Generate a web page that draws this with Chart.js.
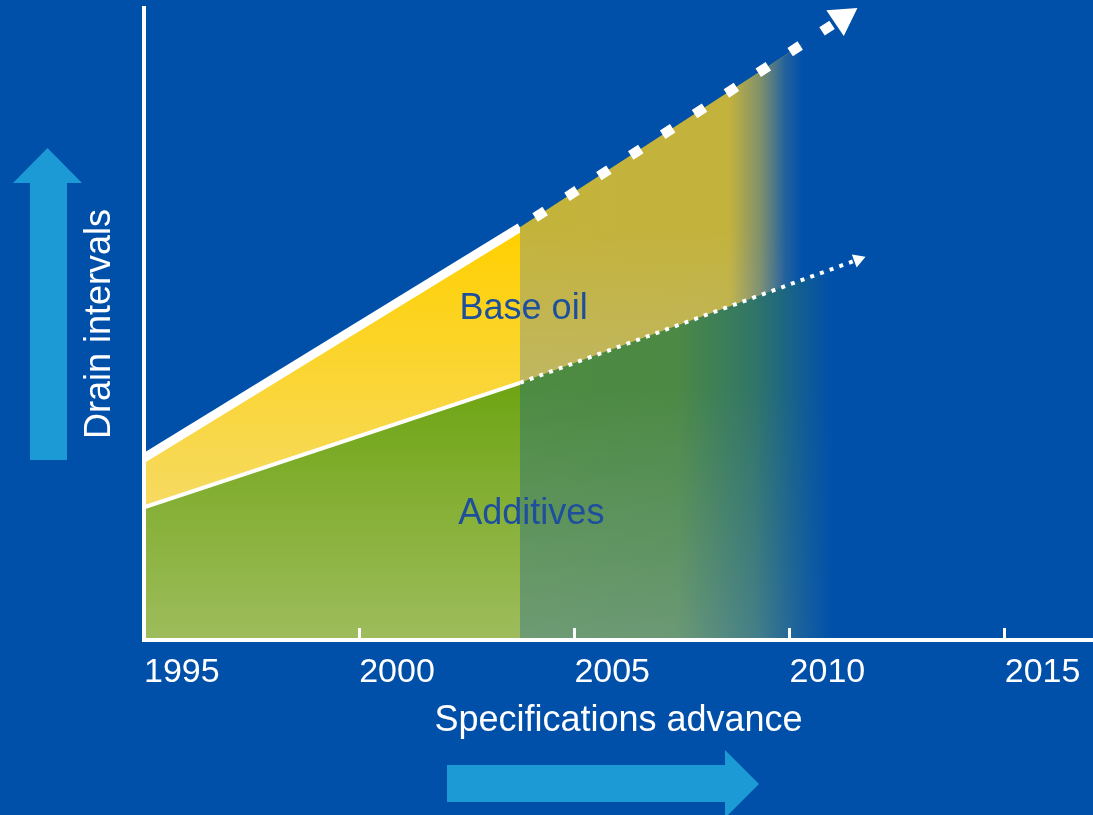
<!DOCTYPE html>
<html>
<head>
<meta charset="utf-8">
<script src="https://cdn.jsdelivr.net/npm/chart.js@4.4.1/dist/chart.umd.min.js"></script>
<style>
  html, body { margin: 0; padding: 0; background: #0050aa; overflow: hidden; }
  #wrap { width: 1093px; height: 815px; position: relative; }
</style>
</head>
<body>
<div id="wrap"><canvas id="c" width="1093" height="815"></canvas></div>
<script>
// ---- data ----
const years = [1995, 2003.736];
const baseOil = [28.8, 65.3];
const additives = [21.0, 40.7];

// projected (fading) areas beyond today
const projBaseYears = [2003.736, 2010.3];
const projBaseOil = [65.3, 94.3];
const projAddYears = [2003.736, 2011.0];
const projAdditives = [40.7, 58.7];

// trend arrows
const trendBaseYears = [2003.736, 2011.23];
const trendBaseOil = [65.3, 98.4];
const trendAddYears = [2003.736, 2011.59];
const trendAdditives = [40.7, 60.2];

const tickYears = [1995, 2000, 2005, 2010, 2015];
const areaLabels = ['Base oil', 'Additives'];
const xTitle = 'Specifications advance';
const yTitle = 'Drain intervals';

const pts = (xs, ys) => xs.map((x, i) => ({ x: x, y: ys[i] }));

const FONT = '"Liberation Sans", Arial, sans-serif';

function vGrad(context, v0, c0, v1, c1) {
  const chart = context.chart;
  const { chartArea, scales } = chart;
  if (!chartArea || !scales.y) return c0;
  const y0 = scales.y.getPixelForValue(v0);
  const y1 = scales.y.getPixelForValue(v1);
  const g = chart.ctx.createLinearGradient(0, y0, 0, y1);
  g.addColorStop(0, c0);
  g.addColorStop(1, c1);
  return g;
}

function hGrad(context, xFrom, xTo, stops) {
  const chart = context.chart;
  const { chartArea, scales } = chart;
  if (!chartArea || !scales.x) return stops[0][1];
  const x0 = scales.x.getPixelForValue(xFrom);
  const x1 = scales.x.getPixelForValue(xTo);
  const g = chart.ctx.createLinearGradient(x0, 0, x1, 0);
  stops.forEach((s) => g.addColorStop(s[0], s[1]));
  return g;
}

const yellowFill = (c) => vGrad(c, 65, '#ffd000', 21, '#f6da62');
const greenFill = (c) => vGrad(c, 40, '#6fa514', 0, '#9ebc5c');

const upperVeil = (c) => hGrad(c, projBaseYears[0], projBaseYears[1], [
  [0, 'rgba(60,112,195,0.30)'],
  [0.74, 'rgba(60,112,195,0.31)'],
  [0.85, 'rgba(35,98,184,0.58)'],
  [0.94, 'rgba(10,85,174,0.9)'],
  [1, 'rgba(0,80,170,1)']
]);
const lowerVeil = (c) => hGrad(c, projAddYears[0], projAddYears[1], [
  [0, 'rgba(0,80,170,0.30)'],
  [0.5, 'rgba(0,80,170,0.32)'],
  [0.75, 'rgba(0,80,170,0.56)'],
  [0.91, 'rgba(0,80,170,0.86)'],
  [1, 'rgba(0,80,170,1)']
]);

const lastOnly = (val) => (ctx) => (ctx.dataIndex === ctx.dataset.data.length - 1 ? val : 0);

// decorations: light-blue arrows
const arrowsPlugin = {
  id: 'arrows',
  beforeDraw(chart) {
    const ctx = chart.ctx;
    ctx.save();
    ctx.fillStyle = '#1b9ad6';
    ctx.fillRect(30, 183, 37, 277);
    ctx.beginPath();
    ctx.moveTo(13, 183); ctx.lineTo(82, 183); ctx.lineTo(47.5, 148); ctx.closePath();
    ctx.fill();
    ctx.fillRect(447, 765, 279, 37);
    ctx.beginPath();
    ctx.moveTo(725, 750); ctx.lineTo(725, 818); ctx.lineTo(759, 784); ctx.closePath();
    ctx.fill();
    ctx.restore();
  }
};

// area names drawn at data coordinates
const areaLabelPlugin = {
  id: 'areaLabels',
  afterDatasetsDraw(chart, args, opts) {
    const { ctx, scales } = chart;
    ctx.save();
    ctx.fillStyle = '#1d4f9c';
    ctx.font = '36px ' + FONT;
    ctx.textAlign = 'center';
    ctx.textBaseline = 'middle';
    opts.items.forEach((it) => {
      ctx.fillText(it.text, scales.x.getPixelForValue(it.x), scales.y.getPixelForValue(it.y));
    });
    ctx.restore();
  }
};

const area = (label, data, fill, bg, order, extra) => Object.assign({
  label: label, data: data, fill: fill, backgroundColor: bg,
  borderWidth: 0, pointRadius: 0, order: order
}, extra || {});

new Chart(document.getElementById('c'), {
  type: 'line',
  data: {
    datasets: [
      area('Additives', pts(years, additives), 'origin', greenFill, 90,
        { borderColor: '#ffffff', borderWidth: 4 }),
      area('Base oil', pts(years, baseOil), 'origin', yellowFill, 100,
        { borderColor: '#ffffff', borderWidth: 9 }),
      area('Base oil projection', pts(projBaseYears, projBaseOil), 'origin', yellowFill, 80),
      area('Base oil fade', pts(trendBaseYears, trendBaseOil), 'origin', upperVeil, 70),
      area('Additives projection', pts(projAddYears, projAdditives), 'origin', greenFill, 60),
      area('Additives fade', pts(trendAddYears, trendAdditives), 'origin', lowerVeil, 50),
      {
        label: 'Base oil trend',
        data: pts(trendBaseYears, trendBaseOil),
        fill: false,
        borderColor: '#ffffff',
        borderWidth: 10,
        borderDash: [12, 26],
        borderDashOffset: 20,
        pointStyle: 'triangle',
        pointRadius: lastOnly(18),
        pointRotation: 56,
        pointBackgroundColor: '#ffffff',
        pointBorderWidth: 0,
        clip: false,
        order: 20
      },
      {
        label: 'Additives trend',
        data: pts(trendAddYears, trendAdditives),
        fill: false,
        borderColor: '#ffffff',
        borderWidth: 4,
        borderDash: [4, 6.3],
        pointStyle: 'triangle',
        pointRadius: lastOnly(8),
        pointRotation: 70,
        pointBackgroundColor: '#ffffff',
        pointBorderWidth: 0,
        clip: false,
        order: 10
      }
    ]
  },
  options: {
    responsive: false,
    animation: false,
    devicePixelRatio: 1,
    layout: { autoPadding: false, padding: { top: 8, left: 0, right: 0, bottom: 0 } },
    elements: { line: { tension: 0 } },
    plugins: {
      legend: { display: false },
      tooltip: { enabled: false },
      areaLabels: {
        items: [
          { text: areaLabels[0], x: 2003.82, y: 52.3 },
          { text: areaLabels[1], x: 2004.0, y: 19.9 }
        ]
      }
    },
    scales: {
      x: {
        type: 'linear',
        min: 1995,
        max: 2017.05,
        afterBuildTicks: (scale) => { scale.ticks = tickYears.map((v) => ({ value: v })); },
        afterFit: (scale) => { scale.height = 175; scale.paddingLeft = 0; scale.paddingRight = 0; },
        ticks: {
          align: 'start',
          autoSkip: false,
          maxRotation: 0,
          padding: 24.6,
          color: '#ffffff',
          font: { family: FONT, size: 34 },
          callback: (v) => String(v)
        },
        grid: {
          display: true,
          drawOnChartArea: false,
          drawTicks: true,
          tickLength: -12,
          color: '#ffffff',
          lineWidth: 3,
          z: 1
        },
        border: { display: true, color: '#ffffff', width: 4, z: 1 },
        title: {
          display: true,
          text: xTitle,
          color: '#ffffff',
          font: { family: FONT, size: 36 },
          padding: { top: 0, bottom: 72 }
        }
      },
      y: {
        type: 'linear',
        min: 0,
        max: 100,
        afterFit: (scale) => { scale.width = 144; scale.paddingTop = 0; scale.paddingBottom = 0; },
        ticks: { display: false },
        grid: { display: false, drawTicks: false },
        border: { display: true, color: '#ffffff', width: 4, z: 1 },
        title: {
          display: true,
          text: yTitle,
          color: '#ffffff',
          font: { family: FONT, size: 36 },
          padding: { top: 78, bottom: 0 }
        }
      }
    }
  },
  plugins: [arrowsPlugin, areaLabelPlugin]
});
</script>
</body>
</html>
